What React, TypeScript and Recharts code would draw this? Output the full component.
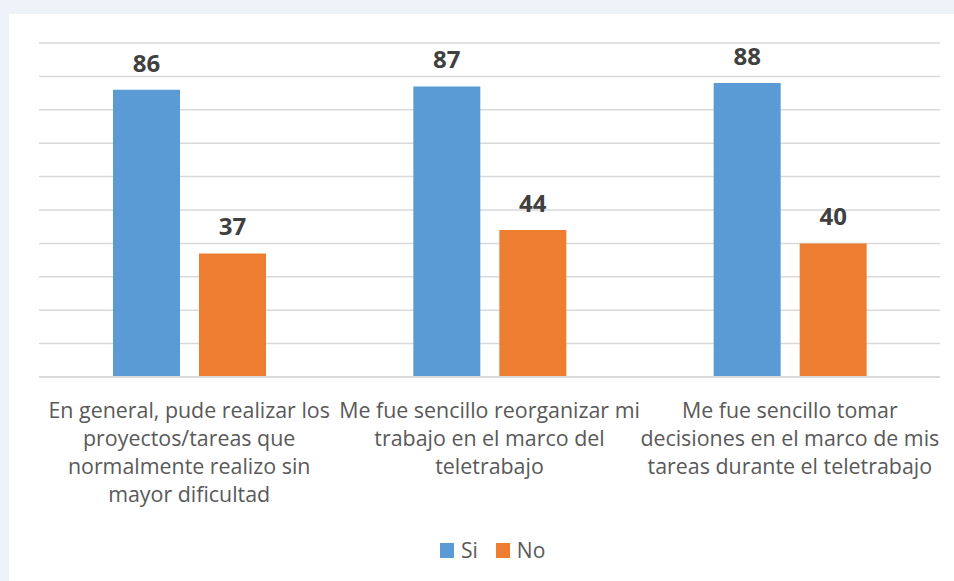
import React from 'react';
import { BarChart, Bar, XAxis, YAxis, CartesianGrid, LabelList, Legend } from 'recharts';

const categoryLines: string[][] = [
  ['En general, pude realizar los', 'proyectos/tareas que', 'normalmente realizo sin', 'mayor dificultad'],
  ['Me fue sencillo reorganizar mi', 'trabajo en el marco del', 'teletrabajo'],
  ['Me fue sencillo tomar', 'decisiones en el marco de mis', 'tareas durante el teletrabajo'],
];
const seriesNames = ['Si', 'No'];
const siValues = [86, 87, 88];
const noValues = [37, 44, 40];
const yTicks = [0, 10, 20, 30, 40, 50, 60, 70, 80, 90, 100];

const SI_COLOR = '#5b9bd5';
const NO_COLOR = '#ed7d31';
const FONT = '"Open Sans", sans-serif';

const data = categoryLines.map((lines, i) => ({
  name: lines.join(' '),
  Si: siValues[i],
  No: noValues[i],
}));

const CategoryTick = (props: any) => {
  const { x, y, payload } = props;
  const lines = categoryLines[payload.index] || [];
  return (
    <text x={x} y={y} textAnchor="middle" fill="#595959" fontSize={21.4} fontFamily={FONT}>
      {lines.map((l, i) => (
        <tspan key={i} x={x} dy={i === 0 ? 33 : 28}>
          {l}
        </tspan>
      ))}
    </text>
  );
};

const LegendContent = (props: any) => {
  const payload = [...(props.payload || [])].sort(
    (a: any, b: any) => seriesNames.indexOf(a.value) - seriesNames.indexOf(b.value)
  );
  return (
    <div style={{ display: 'flex', alignItems: 'center', height: 30, fontFamily: FONT, fontSize: 21, color: '#595959' }}>
      {payload.map((p: any, i: number) => (
        <div key={i} style={{ display: 'flex', alignItems: 'center', marginRight: 18 }}>
          <div style={{ width: 14, height: 15, background: p.color, marginRight: 7 }} />
          <span style={{ lineHeight: '30px' }}>{p.value}</span>
        </div>
      ))}
    </div>
  );
};

export default function App() {
  return (
    <div style={{ position: 'absolute', left: 0, top: 0, width: 954, height: 581, background: '#eef3fa', overflow: 'hidden' }}>
      <div style={{ position: 'absolute', left: 9, top: 14, width: 945, height: 567, background: '#ffffff' }} />
      <div style={{ position: 'absolute', left: 0, top: 0 }}>
        <BarChart
          width={954}
          height={581}
          data={data}
          margin={{ top: 43, right: 14, left: 39, bottom: 144 }}
          barSize={67}
          barGap={19}
        >
          <CartesianGrid horizontal vertical={false} stroke="#d9d9d9" strokeWidth={1.5} />
          <YAxis hide domain={[0, 100]} ticks={yTicks} type="number" />
          <XAxis
            dataKey="name"
            axisLine={{ stroke: '#d9d9d9', strokeWidth: 2 }}
            tickLine={false}
            interval={0}
            height={30}
            tick={<CategoryTick />}
          />
          <Legend
            content={<LegendContent />}
            verticalAlign="bottom"
            wrapperStyle={{ left: 440, top: 535, width: 200, height: 30 }}
          />
          <Bar dataKey="Si" name="Si" fill={SI_COLOR} isAnimationActive={false}>
            <LabelList dataKey="Si" position="top" offset={18} fill="#404040" fontSize={24} fontWeight="bold" fontFamily={FONT} />
          </Bar>
          <Bar dataKey="No" name="No" fill={NO_COLOR} isAnimationActive={false}>
            <LabelList dataKey="No" position="top" offset={18} fill="#404040" fontSize={24} fontWeight="bold" fontFamily={FONT} />
          </Bar>
        </BarChart>
      </div>
    </div>
  );
}
